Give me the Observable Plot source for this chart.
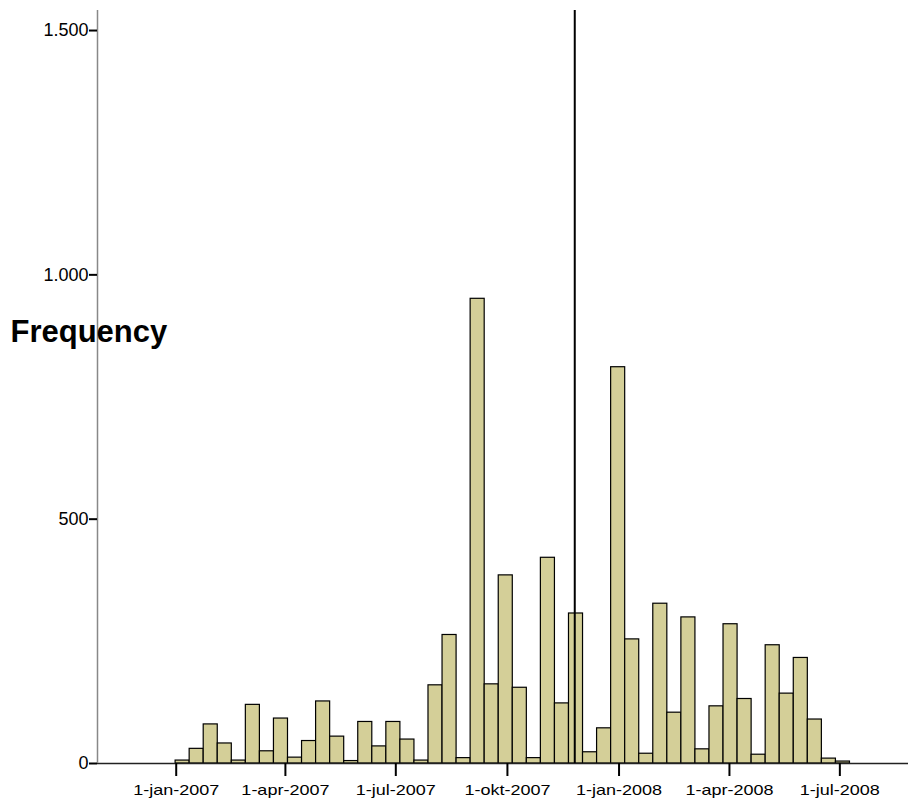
<!DOCTYPE html>
<html><head><meta charset="utf-8">
<script src="https://cdn.jsdelivr.net/npm/d3@7"></script>
<script src="https://cdn.jsdelivr.net/npm/@observablehq/plot@0.6"></script>
<style>body{margin:0;background:#fff} svg{display:block}</style>
</head><body><div id="chart"></div><script>
const binStart = "2006-12-31T12:00:00Z";
const binWidthDays = 11.58;
const counts = [6,30,80,41,6,120,25,92,12,46,127,55,5,85,35,85,49,6,160,263,11,951,162,385,155,11,421,123,307,23,72,811,254,20,327,104,299,29,117,285,132,18,242,143,216,90,10,4];
const tickDates = ["2007-01-01","2007-04-01","2007-07-01","2007-10-01","2008-01-01","2008-04-01","2008-07-01"];
const tickLabels = ["1-jan-2007","1-apr-2007","1-jul-2007","1-okt-2007","1-jan-2008","1-apr-2008","1-jul-2008"];
const yTicks = [0,500,1000,1500];
const yTickLabels = ["0","500","1.000","1.500"];
const meanDate = "2007-11-25T12:00:00Z";
const xDomain = ["2006-10-28T03:00:00Z","2008-08-26T14:00:00Z"];
const yMax = 1541;

const DAY = 864e5;
const t0 = new Date(binStart).getTime();
const bins = counts.map((c,i)=>({x1:new Date(t0+i*binWidthDays*DAY), x2:new Date(t0+(i+1)*binWidthDays*DAY), count:c}));
const tickDateObjs = tickDates.map(d=>new Date(d));

const chart = Plot.plot({
  width:909, height:798, marginLeft:97, marginRight:1, marginTop:10, marginBottom:35,
  style:{fontFamily:"'Liberation Sans', Arial, sans-serif", background:"#fff", color:"#000"},
  x:{type:"utc", domain: xDomain.map(d=>new Date(d))},
  y:{domain:[0,yMax]},
  marks:[
    Plot.rectY(bins,{x1:"x1",x2:"x2",y1:0,y2:"count",fill:"#D4CF98",stroke:"#000",strokeWidth:1.2,inset:0}),
    Plot.ruleY([0],{stroke:"#222",strokeWidth:1.5}),
    Plot.ruleX([new Date(xDomain[0])],{stroke:"#888",strokeWidth:1.5}),
    Plot.ruleX([new Date(meanDate)],{stroke:"#000",strokeWidth:2}),
    Plot.axisX({ticks: tickDateObjs, tickFormat: d => tickLabels[tickDateObjs.findIndex(t => +t === +d)], tickSize:13, tickPadding:8, fontSize:15, strokeWidth:2, label:null}),
    Plot.axisY({ticks:yTicks, tickFormat: d => yTickLabels[yTicks.indexOf(d)], tickSize:8, tickPadding:1, fontSize:18, strokeWidth:2, label:null}),
    Plot.text(["Frequency"],{frameAnchor:"left", textAnchor:"start", dx:-87, dy:-55, fontSize:31, fontWeight:"bold"})
  ]
});
document.getElementById("chart").append(chart);
chart.querySelectorAll('g[aria-label="x-axis tick label"] text').forEach(t=>{
  const L = t.getComputedTextLength();
  t.setAttribute("textLength", L*1.2);
  t.setAttribute("lengthAdjust","spacingAndGlyphs");
});
</script></body></html>
